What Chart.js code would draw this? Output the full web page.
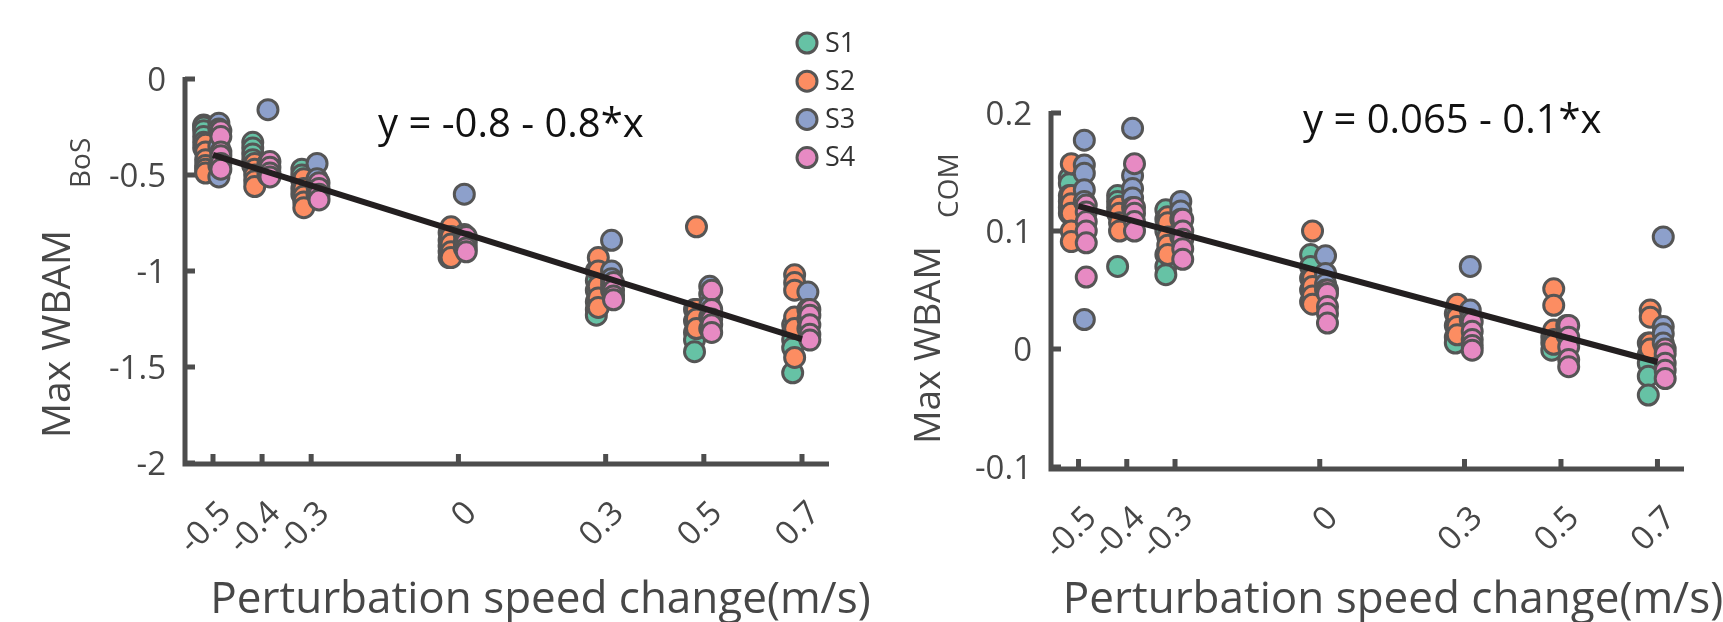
<!DOCTYPE html>
<html>
<head>
<meta charset="utf-8">
<script src="https://cdn.jsdelivr.net/npm/chart.js@4.4.1/dist/chart.umd.min.js"></script>
<style>
  html, body { margin: 0; padding: 0; background: #fff; }
  #wrap { position: relative; width: 1723px; height: 622px; }
  canvas { position: absolute; top: 0; }
</style>
</head>
<body>
<div id="wrap">
  <canvas id="bosChart" width="900" height="622" style="left:0"></canvas>
  <canvas id="comChart" width="863" height="622" style="left:860px"></canvas>
</div>
<script>
// perturbation speeds (x groups) and their tick labels
const speeds = [-0.5, -0.4, -0.3, 0, 0.3, 0.5, 0.7];
const speedLabels = ['-0.5', '-0.4', '-0.3', '0', '0.3', '0.5', '0.7'];
const subjects = ['S1', 'S2', 'S3', 'S4'];
const subjectColors = ['#66c2a5', '#fc8d62', '#8da0cb', '#e78ac3'];
const subjectJitter = [-0.019, -0.015, 0.012, 0.016];

// Max WBAM_BoS, one inner list per speed
const bosS1 = [[-0.24, -0.25, -0.27, -0.30, -0.33, -0.36], [-0.33, -0.36, -0.39, -0.42, -0.45], [-0.47, -0.50, -0.53, -0.57, -0.60], [-0.80, -0.84, -0.87, -0.90, -0.93], [-1.00, -1.05, -1.10, -1.16, -1.20, -1.23], [-1.20, -1.26, -1.32, -1.36, -1.42], [-1.28, -1.32, -1.36, -1.40, -1.53]];
const bosS2 = [[-0.34, -0.38, -0.42, -0.45, -0.47, -0.49], [-0.44, -0.47, -0.50, -0.53, -0.56], [-0.52, -0.57, -0.61, -0.64, -0.67], [-0.77, -0.82, -0.86, -0.90, -0.93], [-0.93, -1.00, -1.08, -1.14, -1.19], [-0.77, -1.20, -1.25, -1.30], [-1.02, -1.06, -1.10, -1.24, -1.30, -1.45]];
const bosS3 = [[-0.23, -0.26, -0.35, -0.45, -0.51], [-0.16, -0.44, -0.47, -0.50], [-0.44, -0.52, -0.56, -0.60], [-0.60, -0.81, -0.85, -0.88], [-0.84, -1.00, -1.04, -1.07, -1.10], [-1.08, -1.12, -1.18, -1.24, -1.30], [-1.11, -1.20, -1.25, -1.30]];
const bosS4 = [[-0.27, -0.30, -0.38, -0.40, -0.44, -0.47], [-0.43, -0.46, -0.49, -0.51], [-0.54, -0.57, -0.60, -0.63], [-0.82, -0.85, -0.88, -0.90], [-1.06, -1.10, -1.13, -1.15], [-1.10, -1.20, -1.25, -1.28, -1.32], [-1.20, -1.23, -1.28, -1.33, -1.36]];
const bosFit = [-0.795, -0.8];   // intercept, slope
const bosTicks = [0, -0.5, -1, -1.5, -2];
const bosTickLabels = ['0', '-0.5', '-1', '-1.5', '-2'];

// Max WBAM_COM
const comS1 = [[0.145, 0.140, 0.130, 0.125, 0.120, 0.115], [0.130, 0.125, 0.120, 0.115, 0.070], [0.118, 0.110, 0.100, 0.080, 0.070, 0.063], [0.080, 0.070, 0.060, 0.050, 0.040], [0.030, 0.020, 0.010, 0.005], [0.010, 0.005, -0.001], [0.005, -0.005, -0.012, -0.023, -0.039]];
const comS2 = [[0.157, 0.130, 0.123, 0.115, 0.100, 0.091], [0.121, 0.115, 0.107, 0.100], [0.112, 0.107, 0.095, 0.088, 0.080], [0.100, 0.060, 0.053, 0.045, 0.038], [0.038, 0.027, 0.019, 0.012], [0.051, 0.037, 0.016, 0.008, 0.004], [0.033, 0.027, 0.005, 0.000]];
const comS3 = [[0.177, 0.156, 0.149, 0.135, 0.125, 0.025], [0.187, 0.147, 0.136, 0.128, 0.120], [0.125, 0.117, 0.110, 0.100, 0.095], [0.079, 0.064, 0.055, 0.050], [0.070, 0.033, 0.025], [0.020, 0.012], [0.095, 0.019, 0.013, 0.005]];
const comS4 = [[0.122, 0.116, 0.108, 0.100, 0.090, 0.061], [0.157, 0.120, 0.115, 0.108, 0.100], [0.110, 0.100, 0.093, 0.085, 0.076], [0.050, 0.047, 0.036, 0.030, 0.022], [0.023, 0.015, 0.008, 0.003, -0.001], [0.020, 0.010, 0.002, -0.009, -0.015], [0.000, -0.004, -0.012, -0.018, -0.025]];
const comFit = [0.066, -0.11];
const comTicks = [0.2, 0.1, 0, -0.1];
const comTickLabels = ['0.2', '0.1', '0', '-0.1'];

const AXIS = '#4d4d4d';
const TEXT = '#474747';
const EDGE = '#555555';
const FONT = '"Open Sans", "Noto Sans", sans-serif';

function toPoints(groups, k) {
    const pts = [];
    groups.forEach((vals, i) => {
        vals.forEach(v => pts.push({ x: speeds[i] + subjectJitter[k], y: v }));
    });
    return pts;
}

function buildDatasets(series, fit) {
    const sets = series.map((groups, k) => ({
        type: 'scatter',
        label: subjects[k],
        data: toPoints(groups, k),
        backgroundColor: subjectColors[k],
        borderColor: EDGE,
        borderWidth: 3,
        pointRadius: 10,
        order: 4 - k,
        clip: false
    }));
    const x0 = speeds[0], x1 = speeds[speeds.length - 1];
    sets.push({
        type: 'line',
        label: 'fit',
        data: [{ x: x0, y: fit[0] + fit[1] * x0 }, { x: x1, y: fit[0] + fit[1] * x1 }],
        borderColor: '#231f20',
        borderWidth: 6,
        pointRadius: 0,
        fill: false,
        order: 0,
        clip: false
    });
    return sets;
}

// axes, ticks and texts drawn MATLAB style
function decorPlugin(opt) {
    return {
        id: 'decor',
        beforeDatasetsDraw(chart) {
            const ctx = chart.ctx;
            const a = chart.chartArea;
            const xs = chart.scales.x, ys = chart.scales.y;
            const ax = a.left - 1, ay = a.bottom + opt.axisDy;
            ctx.save();
            ctx.strokeStyle = AXIS;
            ctx.lineWidth = 5;
            ctx.beginPath();
            ctx.moveTo(ax, a.top - 2);
            ctx.lineTo(ax, ay + 2.5);
            ctx.moveTo(ax - 2.5, ay);
            ctx.lineTo(a.right, ay);
            ctx.stroke();
            ctx.beginPath();
            opt.yTicks.forEach(v => {
                const py = ys.getPixelForValue(v);
                ctx.moveTo(ax, py);
                ctx.lineTo(ax + 10, py);
            });
            speeds.forEach(v => {
                const px = xs.getPixelForValue(v);
                ctx.moveTo(px, ay);
                ctx.lineTo(px, ay - 10);
            });
            ctx.stroke();

            // y tick labels
            ctx.fillStyle = TEXT;
            ctx.font = '33px ' + FONT;
            ctx.textAlign = 'right';
            ctx.textBaseline = 'middle';
            opt.yTicks.forEach((v, i) => {
                ctx.fillText(opt.yLabels[i], ax - 19, ys.getPixelForValue(v) + 3);
            });

            // x tick labels, rotated 45 degrees
            ctx.font = '33px ' + FONT;
            speeds.forEach((v, i) => {
                ctx.save();
                ctx.translate(xs.getPixelForValue(v) + 13, ay + 44);
                ctx.rotate(-Math.PI / 4);
                ctx.fillText(speedLabels[i], 0, 0);
                ctx.restore();
            });

            // x axis title
            ctx.textAlign = 'center';
            ctx.textBaseline = 'alphabetic';
            ctx.font = '44px ' + FONT;
            ctx.fillText('Perturbation speed change(m/s)', (a.left + a.right) / 2 + opt.titleDx, 613);

            // y axis title with subscript
            ctx.save();
            ctx.translate(opt.yTitleX, opt.yTitleY);
            ctx.rotate(-Math.PI / 2);
            ctx.font = opt.yTitleSize + 'px ' + FONT;
            ctx.fillText('Max WBAM', 0, 0);
            ctx.restore();
            ctx.save();
            ctx.translate(opt.subX, opt.subY);
            ctx.rotate(-Math.PI / 2);
            ctx.textAlign = 'left';
            ctx.font = '28px ' + FONT;
            ctx.fillText(opt.sub, 0, 0);
            ctx.restore();

            // fit equation
            ctx.fillStyle = '#111';
            ctx.textAlign = 'left';
            ctx.font = '40px ' + FONT;
            ctx.fillText(opt.equation, opt.eqX, opt.eqY);
            ctx.restore();
        },
        afterDraw(chart) {
            if (!opt.legend) return;
            const ctx = chart.ctx;
            ctx.save();
            subjects.forEach((s, k) => {
                const cy = 43 + k * 38.2;
                ctx.beginPath();
                ctx.arc(807, cy, 10, 0, Math.PI * 2);
                ctx.fillStyle = subjectColors[k];
                ctx.fill();
                ctx.lineWidth = 3;
                ctx.strokeStyle = EDGE;
                ctx.stroke();
                ctx.fillStyle = '#333';
                ctx.font = '27px ' + FONT;
                ctx.textAlign = 'left';
                ctx.textBaseline = 'middle';
                ctx.fillText(s, 825, cy + 1);
            });
            ctx.restore();
        }
    };
}

function makeChart(id, series, fit, yMin, yMax, padding, opt) {
    return new Chart(document.getElementById(id), {
        type: 'scatter',
        data: { datasets: buildDatasets(series, fit) },
        options: {
            responsive: false,
            animation: false,
            events: [],
            layout: { padding: padding },
            plugins: { legend: { display: false }, tooltip: { enabled: false } },
            scales: {
                x: { type: 'linear', min: -0.555, max: 0.755, display: false },
                y: { type: 'linear', min: yMin, max: yMax, display: false }
            }
        },
        plugins: [decorPlugin(opt)]
    });
}

makeChart('bosChart', [bosS1, bosS2, bosS3, bosS4], bosFit, -2, 0,
    { left: 186, top: 79, right: 71, bottom: 159 },
    {
        yTicks: bosTicks, yLabels: bosTickLabels, axisDy: 1,
        titleDx: 33, yTitleX: 70, yTitleY: 334, yTitleSize: 39,
        sub: 'BoS', subX: 90, subY: 188,
        equation: 'y = -0.8 - 0.8*x', eqX: 378, eqY: 137,
        legend: true
    });

makeChart('comChart', [comS1, comS2, comS3, comS4], comFit, -0.1, 0.2,
    { left: 192, top: 113, right: 39, bottom: 155 },
    {
        yTicks: comTicks, yLabels: comTickLabels, axisDy: 2,
        titleDx: 25, yTitleX: 80, yTitleY: 345, yTitleSize: 37,
        sub: 'COM', subX: 98, subY: 218,
        equation: 'y = 0.065 - 0.1*x', eqX: 443, eqY: 133,
        legend: false
    });
</script>
</body>
</html>
